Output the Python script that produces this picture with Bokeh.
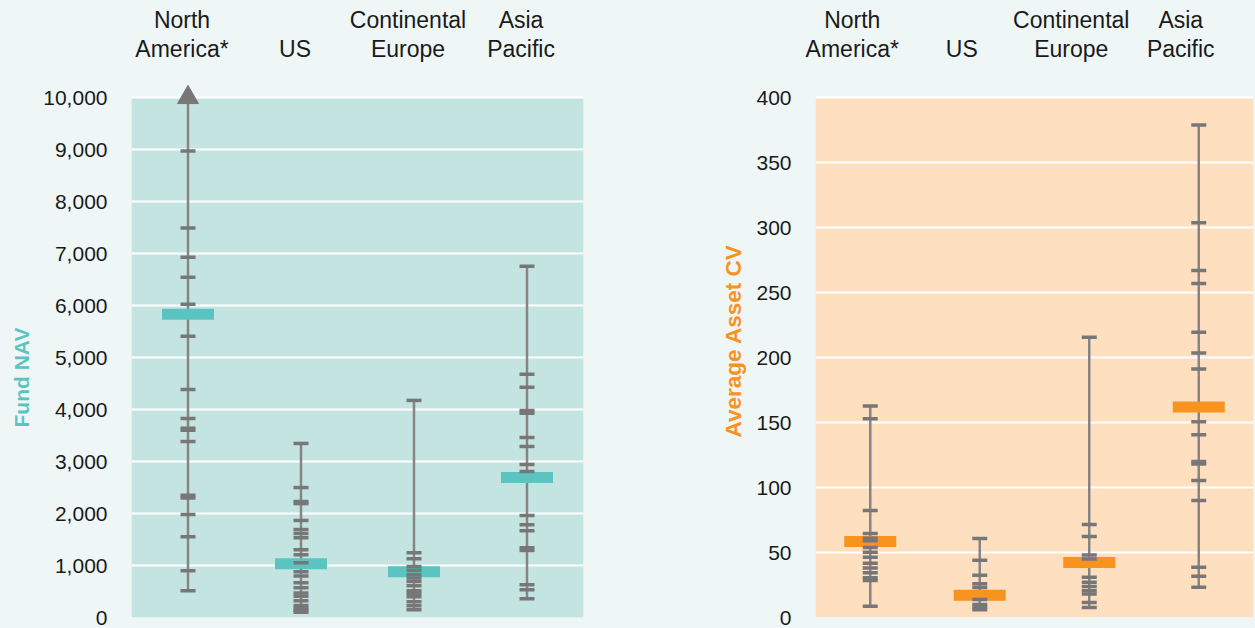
from bokeh.plotting import figure
from bokeh.models import Range1d, FixedTicker, NumeralTickFormatter, BoxAnnotation, LinearAxis, Title
from bokeh.layouts import row
from bokeh.embed import file_html
from bokeh.resources import INLINE

# ---------------- data ----------------
categories = ["North America*", "US", "Continental Europe", "Asia Pacific"]
category_labels = ["North\nAmerica*", "US", "Continental\nEurope", "Asia\nPacific"]

# Fund NAV panel
nav_median = [5830, 1035, 880, 2692]
nav_top = [10000, 3347, 4175, 6757]
nav_bottom = [515, 100, 148, 360]
nav_arrow = ["North America*"]          # distribution continues beyond the axis
nav_na = [8970, 7490, 6930, 6545, 6025, 5410, 4387, 3828, 3640, 3600, 3385, 2350, 2300, 1979, 1555, 900, 515]
nav_us = [3347, 2499, 2230, 2190, 1863, 1690, 1613, 1536, 1304, 1208, 1054, 880, 800, 668, 572, 470, 410, 322, 230, 180, 140, 100]
nav_ce = [4175, 1247, 1131, 980, 910, 828, 760, 694, 611, 515, 460, 400, 302, 225, 148]
nav_ap = [6757, 4676, 4426, 3980, 3930, 3462, 3289, 2942, 2807, 1960, 1786, 1670, 1340, 1290, 630, 534, 360]
nav_ticks = [0, 1000, 2000, 3000, 4000, 5000, 6000, 7000, 8000, 9000, 10000]

# Average Asset CV panel
cv_median = [58.5, 17.2, 42.4, 162]
cv_top = [162.7, 60.8, 215.6, 378.8]
cv_bottom = [8.7, 6, 7.7, 23.3]
cv_arrow = []
cv_na = [162.7, 152.8, 82.3, 64.7, 61, 59, 53.9, 50.1, 46.3, 41.7, 38, 34.5, 30.5, 28.5, 8.7]
cv_us = [60.8, 44, 32.5, 26, 23, 13.8, 10, 8, 6]
cv_ce = [215.6, 71.6, 62.4, 48, 45, 31, 27.1, 23.8, 20.5, 18, 11.5, 7.7]
cv_ap = [378.8, 303.7, 266.9, 257, 219.4, 203.4, 191.1, 150.5, 140.5, 120, 118, 105.3, 90, 38.6, 31.7, 23.3]
cv_ticks = [0, 50, 100, 150, 200, 250, 300, 350, 400]

# ---------------- style ----------------
PAGE_BG = "#EEF7F6"
GREY = "#777777"
LINE_GREY = "#858585"
FONT = "Liberation Sans"
TXT = "#1a1a1a"
H = 628
TOP = 80
BOTTOM = 11

# category position on a numeric axis: one unit per category, centred
cat_pos = {c: i + 0.5 for i, c in enumerate(categories)}


def panel(width, border_left, border_right, y_end, y_max, ticks, fmt, area_color, accent,
          medians, tops, bottoms, arrows, values, title, title_offset, title_size, label_shift):
    n = len(categories)
    p = figure(width=width, height=H, x_range=Range1d(0, n), y_range=Range1d(0, y_end),
               output_backend="svg", toolbar_location=None,
               min_border_left=border_left, min_border_right=border_right,
               min_border_top=TOP, min_border_bottom=BOTTOM)
    p.background_fill_color = PAGE_BG
    p.border_fill_color = PAGE_BG
    p.outline_line_color = None
    p.add_layout(BoxAnnotation(bottom=0, top=y_max, fill_color=area_color, fill_alpha=1,
                               line_color=None, level="image"))
    p.xaxis.visible = False
    p.xgrid.visible = False
    p.ygrid.ticker = FixedTicker(ticks=ticks)
    p.ygrid.grid_line_color = "white"
    p.ygrid.grid_line_width = 2
    ax = p.yaxis[0]
    ax.ticker = FixedTicker(ticks=ticks)
    if fmt:
        ax.formatter = NumeralTickFormatter(format=fmt)
    ax.axis_line_color = None
    ax.major_tick_line_color = None
    ax.minor_tick_line_color = None
    ax.major_tick_out = 0
    ax.major_label_standoff = 24
    ax.major_label_text_font = FONT
    ax.major_label_text_font_size = "21px"
    ax.major_label_text_color = TXT

    xc = [cat_pos[c] for c in categories]
    # whisker lines
    p.segment(x0=xc, x1=xc, y0=bottoms, y1=tops, line_color=LINE_GREY, line_width=2.5)
    # median bars
    p.rect(x=xc, y=medians, width=52, height=11, width_units="screen", height_units="screen",
           fill_color=accent, line_color=None)
    # individual fund ticks
    xs, ys = [], []
    for c, vals in zip(categories, values):
        xs += [cat_pos[c]] * len(vals)
        ys += vals
    p.scatter(x=xs, y=ys, marker="dash", size=15, line_color=GREY, line_width=3.5)
    # arrow for truncated distributions
    if arrows:
        p.scatter(x=[cat_pos[c] for c in arrows], y=[tops[categories.index(c)] for c in arrows],
                  marker="triangle", size=21, fill_color=GREY, line_color=GREY)

    # category labels on top: helper range, slightly shifted like the original
    frame_w = width - border_left - border_right
    s = -label_shift / (frame_w / float(n))
    p.extra_x_ranges = {"lab": Range1d(s, n + s)}
    top_axis = LinearAxis(x_range_name="lab", ticker=FixedTicker(ticks=xc),
                          major_label_overrides={v: t for v, t in zip(xc, category_labels)})
    top_axis.axis_line_color = None
    top_axis.major_tick_line_color = None
    top_axis.minor_tick_line_color = None
    top_axis.major_tick_out = 0
    top_axis.major_label_standoff = 19
    top_axis.major_label_text_font = FONT
    top_axis.major_label_text_font_size = "23px"
    top_axis.major_label_text_line_height = 1.08
    top_axis.major_label_text_color = TXT
    p.add_layout(top_axis, "above")

    # axis title
    p.add_layout(Title(text=title, align="left", offset=title_offset, standoff=15,
                       text_font=FONT, text_font_size=title_size, text_font_style="bold",
                       text_color=accent), "left")
    return p


left = panel(700, 130, 117, 10327, 10000, nav_ticks, "0,0", "#C4E4E2", "#5BC4C1",
             nav_median, nav_top, nav_bottom, nav_arrow, [nav_na, nav_us, nav_ce, nav_ap],
             "Fund NAV", 190, "21px", -6)
right = panel(555, 115, 2, 413.1, 400, cv_ticks, None, "#FEDFBF", "#F7931E",
              cv_median, cv_top, cv_bottom, cv_arrow, [cv_na, cv_us, cv_ce, cv_ap],
              "Average Asset CV", 180, "22.5px", -18)

layout = row(left, right, spacing=0)
html = file_html(layout, INLINE).replace("</head>", "<style>body{background:%s;}</style></head>" % PAGE_BG)
open("out.html", "w").write(html)
